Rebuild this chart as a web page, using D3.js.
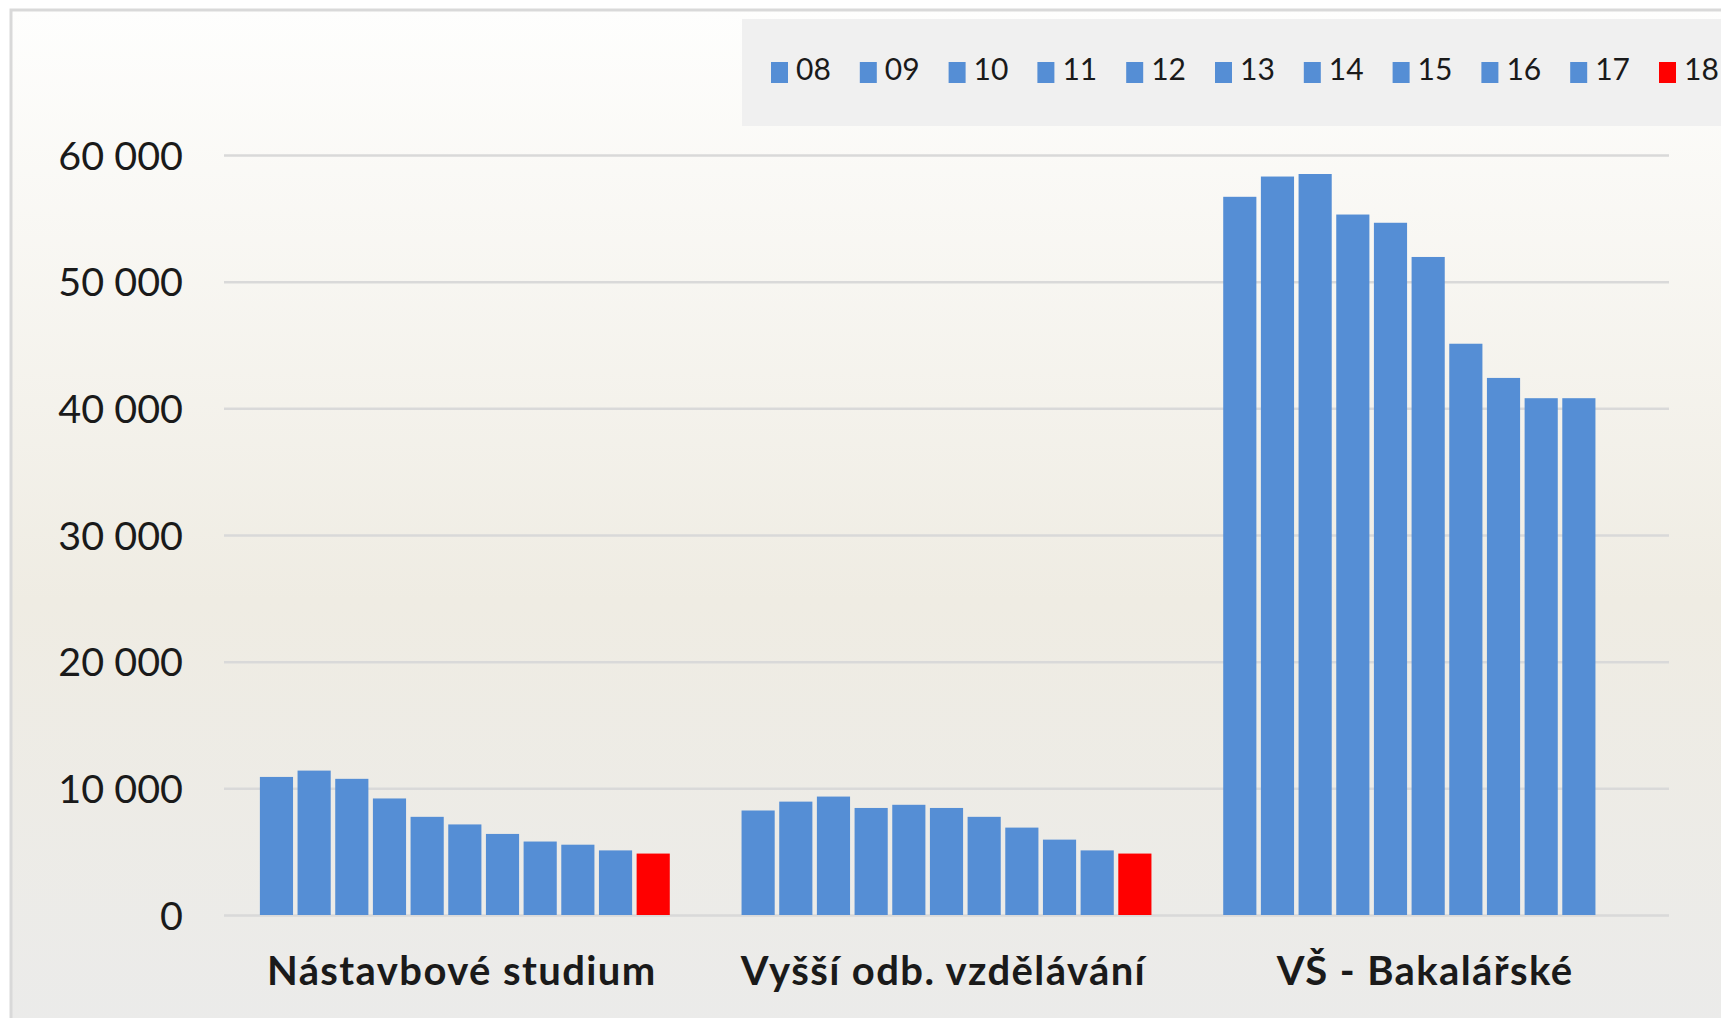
<!DOCTYPE html>
<html>
<head>
<meta charset="utf-8">
<script src="https://d3js.org/d3.v7.min.js"></script>
<style>
  body { margin: 0; background: #ffffff; }
  text { font-family: Lato, "Open Sans", sans-serif; fill: #1a1a1a; }
</style>
</head>
<body>
<script>

// categories and series (school years 08 .. 18)
var categories = ["Nástavbové studium", "Vyšší odb. vzdělávání", "VŠ - Bakalářské"];
var years = ["08", "09", "10", "11", "12", "13", "14", "15", "16", "17", "18"];

// values per category, one per year
var nastavbove = [10900, 11400, 10750, 9200, 7750, 7150, 6400, 5800, 5550, 5100, 4850];
var vyssi = [8250, 8950, 9350, 8450, 8700, 8450, 7750, 6900, 5950, 5100, 4850];
var bakalarske = [56700, 58300, 58500, 55300, 54650, 51950, 45100, 42400, 40800, 40800, null];

var y_ticks = [0, 10000, 20000, 30000, 40000, 50000, 60000];

// build rows for d3
var rows = [nastavbove, vyssi, bakalarske].map(function(vals, i) {
  return {"category": categories[i], "values": vals.map(function(v, j) {
    return {"year": years[j], "value": v};
  })};
});

var w = 1721;
var h = 1018;

var svg = d3.select("body")
            .append("svg")
            .attr("width", w)
            .attr("height", h);

// background gradient like the spreadsheet chart
var grad = svg.append("defs")
              .append("linearGradient")
              .attr("id", "bg")
              .attr("x1", 0).attr("y1", 0)
              .attr("x2", 0).attr("y2", 1);
grad.append("stop").attr("offset", "0%").attr("stop-color", "#fefefd");
grad.append("stop").attr("offset", "58%").attr("stop-color", "#efece3");
grad.append("stop").attr("offset", "100%").attr("stop-color", "#ebebea");

svg.append("rect")
   .attr("x", 11).attr("y", 10)
   .attr("width", w).attr("height", h)
   .style("fill", "url(#bg)")
   .style("stroke", "#d9d9d9")
   .style("stroke-width", 3);

// scales
var x0 = d3.scaleBand()
           .domain(categories)
           .range([224, 1669])
           .paddingInner(0.149)
           .paddingOuter(0.0745);

var x1 = d3.scaleBand()
           .domain(years)
           .range([0, x0.bandwidth()])
           .paddingInner(0.12);

var y_scale = d3.scaleLinear()
                .domain([0, 60000])
                .range([915, 155]);

// gridlines
svg.append("g")
   .attr("class", "grid")
   .attr("transform", "translate(224,0)")
   .call(d3.axisLeft(y_scale).tickValues(y_ticks).tickSize(-1445).tickFormat(""))
   .call(function(g) { g.select(".domain").remove(); })
   .selectAll("line")
   .style("stroke", "#d9d9d9")
   .style("stroke-width", 2.5);

// y axis labels
var fmt = function(d) { return d3.format(",")(d).replace(/,/g, " "); };
var y_axis = svg.append("g")
   .attr("class", "y axis")
   .attr("transform", "translate(183,0)")
   .call(d3.axisLeft(y_scale).tickValues(y_ticks).tickSize(0).tickPadding(0).tickFormat(fmt));
y_axis.select(".domain").remove();
y_axis.selectAll("text")
      .attr("dy", "0.36em")
      .style("font-family", "Lato, sans-serif")
      .style("font-size", "39.5px")
      .style("fill", "#1a1a1a");

// bars
var groups = svg.selectAll("g.cat")
                .data(rows)
                .enter()
                .append("g")
                .attr("class", "cat")
                .attr("transform", function(d) { return "translate(" + x0(d.category) + ",0)"; });

groups.selectAll("rect")
      .data(function(d) { return d.values.filter(function(v) { return v.value != null; }); })
      .enter()
      .append("rect")
      .attr("x", function(d) { return x1(d.year); })
      .attr("y", function(d) { return y_scale(d.value); })
      .attr("width", x1.bandwidth())
      .attr("height", function(d) { return y_scale(0) - y_scale(d.value); })
      .style("fill", function(d) { return d.year == "18" ? "#ff0000" : "#558ed5"; });

// category labels
var x_axis = svg.append("g")
   .attr("class", "x axis")
   .attr("transform", "translate(0,915)")
   .call(d3.axisBottom(x0).tickSize(0).tickPadding(0));
x_axis.select(".domain").remove();
x_axis.selectAll("text")
      .attr("y", 70)
      .attr("dy", 0)
      .attr("dx", -3)
      .style("font-family", "Lato, sans-serif")
      .style("font-size", "40px")
      .style("font-weight", "bold")
      .style("letter-spacing", "1.4px")
      .style("fill", "#1a1a1a");

// legend box
svg.append("rect")
   .attr("x", 742)
   .attr("y", 19)
   .attr("width", 1000)
   .attr("height", 107)
   .style("fill", "#f0f0f0");

var legend = svg.selectAll("g.legend")
                .data(years)
                .enter()
                .append("g")
                .attr("class", "legend")
                .attr("transform", function(d, i) { return "translate(" + (771 + i * 88.8) + ",0)"; });

legend.append("rect")
      .attr("x", 0)
      .attr("y", 62)
      .attr("width", 17)
      .attr("height", 21)
      .style("fill", function(d) { return d == "18" ? "#ff0000" : "#558ed5"; });

legend.append("text")
      .attr("x", 25)
      .attr("y", 79.5)
      .text(function(d) { return d; })
      .style("font-size", "30px");

</script>
</body>
</html>
